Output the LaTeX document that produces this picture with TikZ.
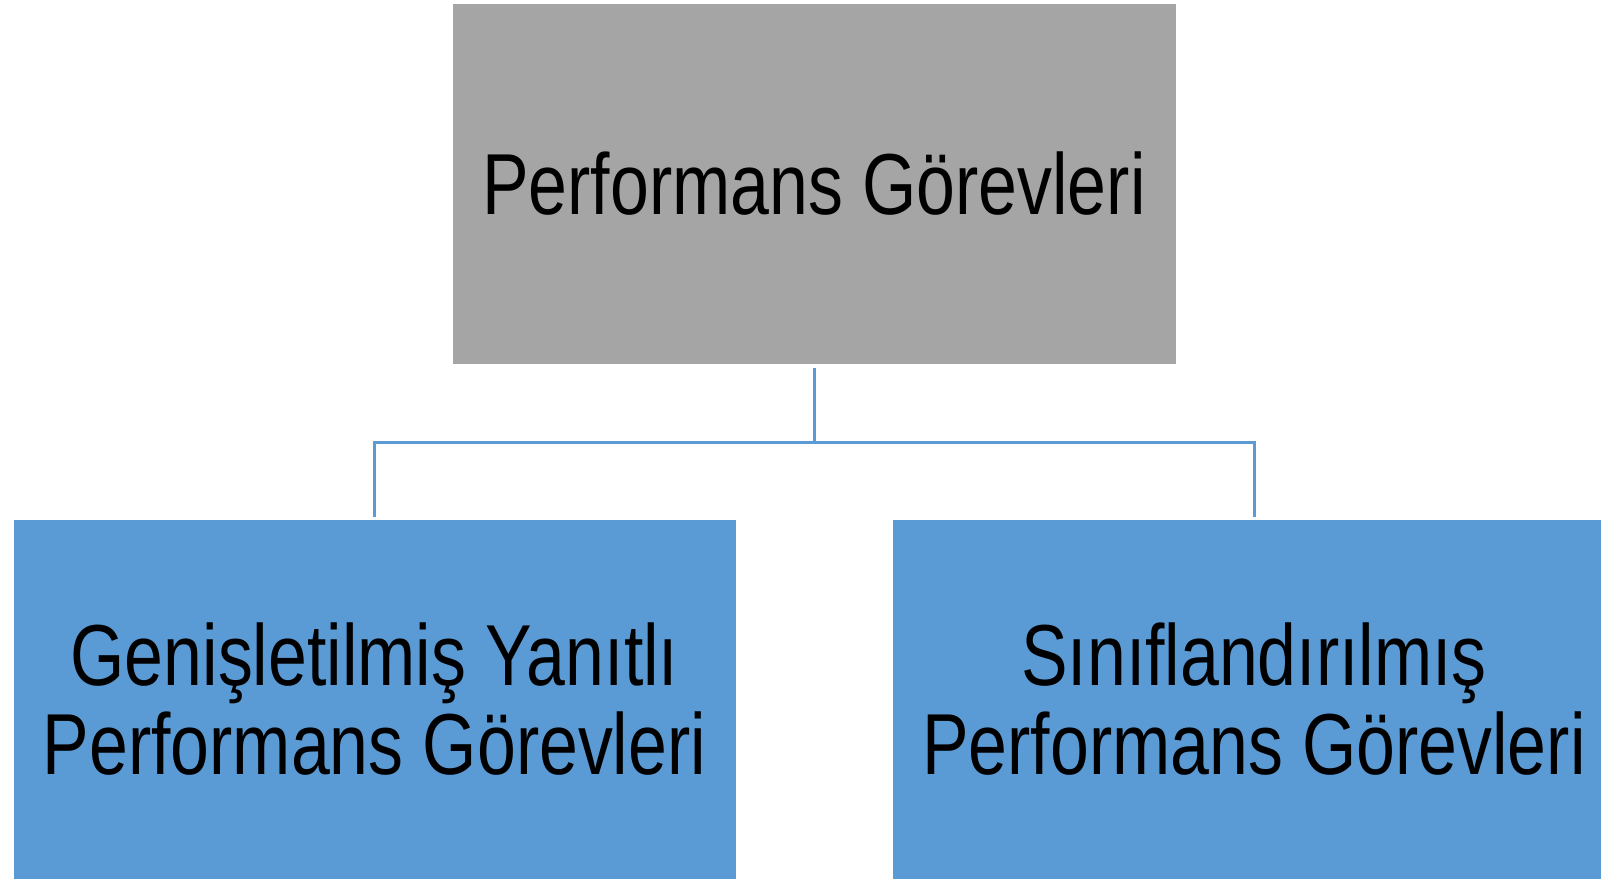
\documentclass[tikz,border=0pt]{standalone}
\usepackage{fontspec}
\newfontfamily\nf[FakeStretch=0.806]{Liberation Sans}
\definecolor{boxgray}{HTML}{A5A5A5}
\definecolor{boxblue}{HTML}{5B9BD5}
\tikzset{
  topbox/.style={rectangle, fill=boxgray, draw=white, line width=1pt, minimum width=724pt, minimum height=360pt, inner sep=0pt, align=center, font=\nf\fontsize{86.6}{89}\selectfont},
  subbox/.style={rectangle, fill=boxblue, draw=white, line width=1pt, minimum width=723pt, minimum height=360pt, inner sep=0pt, align=center, font=\nf\fontsize{86.6}{89}\selectfont},
  conn/.style={draw=boxblue, line width=3pt, shorten <=3pt, shorten >=2pt}
}
\begin{document}
\begin{tikzpicture}[x=1pt,y=1pt]
\useasboundingbox (0,0) rectangle (1601,-880);
\fill[white] (0,0) rectangle (1601,-880);
\node[topbox] (top) at (814,-184) {Performans Görevleri};
\node[subbox] (left) at (374.5,-699) {Genişletilmiş Yanıtlı\\Performans Görevleri};
\node[subbox] (right) at (1254,-699) {Sınıflandırılmış\\Performans Görevleri};
\coordinate (mid) at (814,-442);
\draw[conn] (top.south) -- (mid) -| (left.north);
\draw[conn] (top.south) -- (mid) -| (right.north);
\end{tikzpicture}
\end{document}
